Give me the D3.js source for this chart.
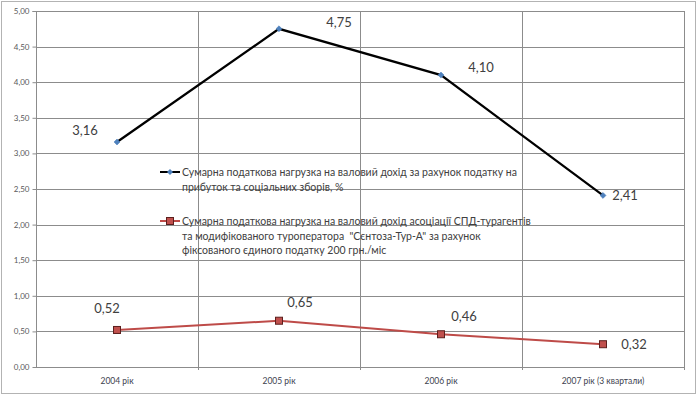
<!DOCTYPE html>
<html>
<head>
<meta charset="utf-8">
<script src="https://cdn.jsdelivr.net/npm/d3@7"></script>
<style>
  html, body { margin: 0; padding: 0; background: #fff; }
  svg { display: block; font-family: Lato, "Open Sans", sans-serif; }
</style>
</head>
<body>
<svg id="chart" width="698" height="397"></svg>
<script>
const categories = ["2004 рік", "2005 рік", "2006 рік", "2007 рік (3 квартали)"];
const profitTaxLoad = [3.16, 4.75, 4.10, 2.41];
const singleTaxLoad = [0.52, 0.65, 0.46, 0.32];
const yTicks = [0, 0.5, 1, 1.5, 2, 2.5, 3, 3.5, 4, 4.5, 5];
const legendProfit = [
    "Сумарна податкова нагрузка на валовий дохід за рахунок податку на",
    "прибуток та соціальних зборів, %"
];
const legendSingle = [
    "Сумарна податкова нагрузка на валовий дохід асоціації СПД-турагентів",
    "та модифікованого туроператора  \"Сєнтоза-Тур-А\" за рахунок",
    "фіксованого єдиного податку 200 грн./міс"
];
// зсуви підписів даних (як у вихідній діаграмі)
const profitLabelShift = [[-32, -12], [60, -7], [40, -8], [22, 0]];
const singleLabelShift = [[-10, -22], [21, -19], [23, -18], [31, 0]];

const svg = d3.select("#chart");
const plot = { left: 36, right: 684, top: 11, bottom: 367 };
const fmt = v => v.toFixed(2).replace(".", ",");
const diamond = d3.symbol(d3.symbolSquare, 18);

// рамка діаграми
svg.append("rect")
    .attr("x", 1.5).attr("y", 1.5)
    .attr("width", 694).attr("height", 392)
    .attr("fill", "#fff").attr("stroke", "#b3b3b3");

const x = d3.scaleBand().domain(categories).range([plot.left, plot.right]);
const y = d3.scaleLinear().domain([0, 5]).range([plot.bottom, plot.top]);
const cx = c => x(c) + x.bandwidth() / 2;

// горизонтальна сітка
svg.append("g")
    .selectAll("line")
    .data(yTicks.filter(t => t > 0))
    .join("line")
    .attr("x1", plot.left).attr("x2", plot.right)
    .attr("y1", d => Math.round(y(d)) + 0.5).attr("y2", d => Math.round(y(d)) + 0.5)
    .attr("stroke", "#8c8c8c").attr("stroke-width", 1);

// вертикальна сітка по межах категорій
svg.append("g")
    .selectAll("line")
    .data(categories)
    .join("line")
    .attr("x1", d => Math.round(x(d) + x.bandwidth()) + 0.5)
    .attr("x2", d => Math.round(x(d) + x.bandwidth()) + 0.5)
    .attr("y1", plot.top).attr("y2", plot.bottom + 3)
    .attr("stroke", "#8c8c8c").attr("stroke-width", 1);

// вісь Y
const yAxis = svg.append("g")
    .attr("transform", `translate(${plot.left + 0.5},0)`)
    .call(d3.axisLeft(y).tickValues(yTicks).tickSize(4).tickPadding(3).tickFormat(fmt));
yAxis.select(".domain").attr("stroke", "#8c8c8c").attr("d", `M-4,${plot.top + 0.5}H0V${plot.bottom}`);
yAxis.selectAll(".tick line").attr("stroke", "#8c8c8c");
yAxis.selectAll(".tick text")
    .attr("fill", "#595959").style("font-size", "8px")
    .style("font-family", "Lato, sans-serif");

// вісь X
const xAxis = svg.append("g")
    .attr("transform", `translate(0,${plot.bottom + 0.5})`)
    .call(d3.axisBottom(x).tickSize(0).tickPadding(10));
xAxis.select(".domain").attr("stroke", "#8c8c8c").attr("d", `M${plot.left},0H${plot.right}`);
xAxis.selectAll(".tick text")
    .attr("fill", "#403f4f").style("font-size", "8.5px")
    .style("font-family", "Lato, sans-serif");

const line = d3.line().x((d, i) => cx(categories[i])).y(d => y(d));

// ряд 1: чорна лінія з синіми ромбами
svg.append("path")
    .datum(profitTaxLoad)
    .attr("fill", "none").attr("stroke", "#000").attr("stroke-width", 2.25)
    .attr("d", line);
svg.append("g")
    .selectAll("path")
    .data(profitTaxLoad)
    .join("path")
    .attr("transform", (d, i) => `translate(${cx(categories[i])},${y(d)}) rotate(45)`)
    .attr("d", diamond)
    .attr("fill", "#4f81bd").attr("stroke", "#4a7ebb").attr("stroke-width", 0.5);

// ряд 2: червона лінія з квадратами
svg.append("path")
    .datum(singleTaxLoad)
    .attr("fill", "none").attr("stroke", "#be4b48").attr("stroke-width", 2)
    .attr("d", line);
svg.append("g")
    .selectAll("rect")
    .data(singleTaxLoad)
    .join("rect")
    .attr("x", (d, i) => cx(categories[i]) - 3.5)
    .attr("y", d => y(d) - 3.5)
    .attr("width", 7).attr("height", 7)
    .attr("fill", "#c0504d").attr("stroke", "#5c1f1d").attr("stroke-width", 1);

// підписи даних
function labels(values, shifts) {
    svg.append("g")
        .selectAll("text")
        .data(values)
        .join("text")
        .attr("x", (d, i) => cx(categories[i]) + shifts[i][0])
        .attr("y", (d, i) => y(d) + shifts[i][1])
        .attr("text-anchor", "middle").attr("dominant-baseline", "central")
        .attr("fill", "#404040").style("font-size", "13px")
        .text(fmt);
}
labels(profitTaxLoad, profitLabelShift);
labels(singleTaxLoad, singleLabelShift);

// легенда
const legend = svg.append("g").attr("transform", "translate(160,172)");
function legendEntry(top, lines, color, marker) {
    const g = legend.append("g").attr("transform", `translate(0,${top})`);
    g.append("line").attr("x1", 0).attr("x2", 20).attr("y1", 0).attr("y2", 0)
        .attr("stroke", color).attr("stroke-width", 2);
    marker(g);
    g.append("g").selectAll("text")
        .data(lines)
        .join("text")
        .attr("x", 22).attr("y", (d, i) => i * 14.6)
        .attr("dominant-baseline", "central")
        .attr("fill", "#404040").style("font-size", "10.5px")
        .style("white-space", "pre")
        .text(d => d);
}
legendEntry(0, legendProfit, "#000", g => g.append("path")
    .attr("transform", "translate(10,0) rotate(45)")
    .attr("d", diamond)
    .attr("fill", "#4f81bd"));
legendEntry(49, legendSingle, "#be4b48", g => g.append("rect")
    .attr("x", 6.5).attr("y", -3.5).attr("width", 7).attr("height", 7)
    .attr("fill", "#c0504d").attr("stroke", "#5c1f1d"));
</script>
</body>
</html>
